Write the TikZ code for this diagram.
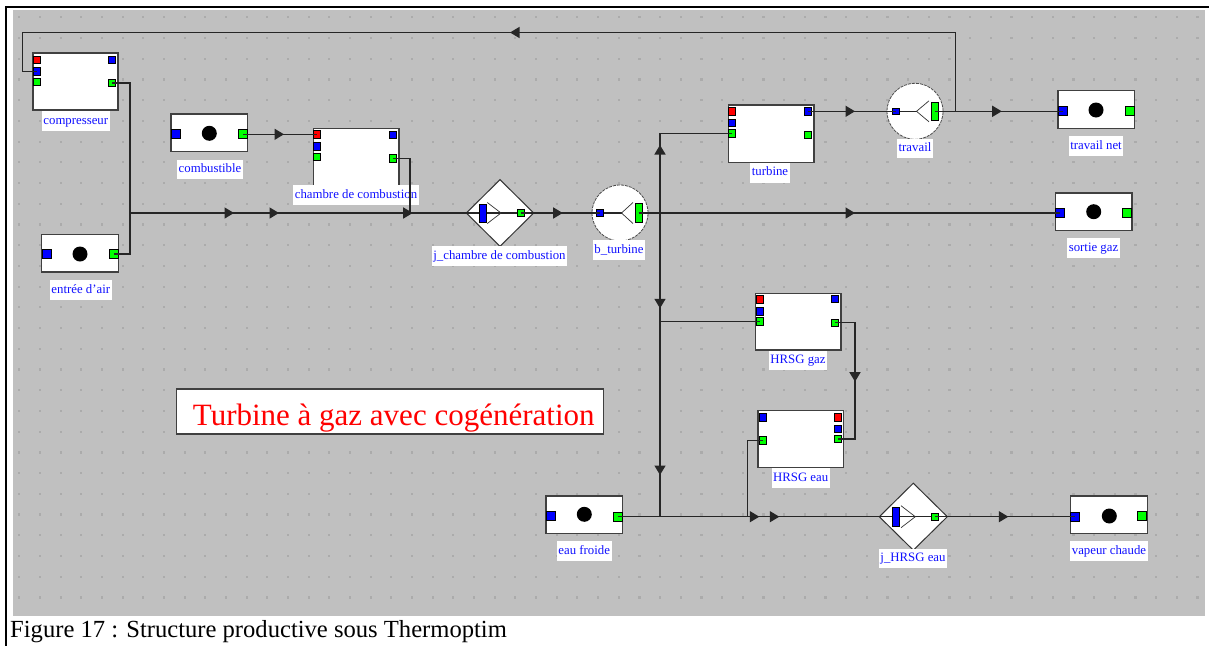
\documentclass[tikz,border=0pt]{standalone}
\usepackage{fontspec}
\setmainfont{Liberation Serif}
\usetikzlibrary{arrows.meta,decorations.markings,shapes.geometric}
\definecolor{bgc}{HTML}{C0C0C0}
\definecolor{dotc}{HTML}{ABABAB}
\definecolor{pblue}{HTML}{0000FF}
\definecolor{pgreen}{HTML}{00FF00}
\definecolor{pred}{HTML}{FF0000}
\definecolor{lblc}{HTML}{1010FF}
\definecolor{wirec}{HTML}{262626}
\begin{document}
\begin{tikzpicture}[x=1pt,y=-1pt,
  wire/.style={draw=wirec, line width=1.5pt},
  arrowat/.style={postaction={decorate,decoration={markings,mark=at position #1 with {\arrow{Triangle[length=9.5pt,width=11pt]}}}}},
  box/.style={rectangle, draw=black!75, fill=white, line width=1.4pt, inner sep=0pt, outer sep=0pt},
  port/.style={rectangle, draw=black, line width=0.7pt, inner sep=0pt, outer sep=0pt, minimum width=7pt, minimum height=7.5pt},
  bp/.style={port, fill=pblue}, gp/.style={port, fill=pgreen}, rp/.style={port, fill=pred},
  big/.style={minimum width=9pt, minimum height=9pt},
  tall/.style={minimum width=7pt, minimum height=18.5pt},
  small/.style={minimum width=6.6pt, minimum height=6.4pt},
  srcdot/.style={circle, fill=black, minimum size=15pt, inner sep=0pt},
  lab/.style={fill=white, text=lblc, font=\fontsize{12.8}{14}\selectfont, inner xsep=1.6pt, inner ysep=0pt, text height=9pt, text depth=3pt, minimum height=19.5pt},
  mixer/.style={diamond, fill=white, draw=black!80, line width=1pt, inner sep=0pt, outer sep=0pt},
  splitter/.style={circle, fill=white, draw=black!70, line width=0.8pt, dash pattern=on 3pt off 1pt, inner sep=0pt, outer sep=0pt, minimum size=56pt},
  chev/.style={draw=black!80, line width=0.7pt}
]
\useasboundingbox (0,0) rectangle (1209,646);
\fill[white] (0,0) rectangle (1209,646);
% frame and background
\fill[black] (4.7,5.7) rectangle (1209,7.7);
\fill[black] (4.7,5.7) rectangle (6.7,646);
\fill[bgc] (13,10) rectangle (1205,616);
\foreach \i in {0,...,57} {\foreach \j in {0,...,28} {
  \fill[dotc] ({18.2+20.67*\i},{16.2+20.72*\j}) rectangle ++(2.2,2.2);}}

% ---------- compresseur
\node[box, minimum width=85pt, minimum height=57pt] (comp) at (75.5,81.5) {};
\node[rp] (cp-rl) at (37.3,59.7) {};
\node[bp] (cp-bl) at (37.3,71.3) {};
\node[gp] (cp-gl) at (37.3,81.7) {};
\node[bp] (cp-br) at (112.3,59.7) {};
\node[gp] (cp-gr) at (112.3,83) {};
\node[lab] (l-comp) at (75.8,121.2) {compresseur};
% ---------- combustible
\node[box, minimum width=76.7pt, minimum height=37.7pt] (comb) at (209.3,132.8) {};
\node[bp,big] (cb-b) at (176,134.3) {};
\node[srcdot] (cb-d) at (209.3,133.3) {};
\node[gp,big] (cb-g) at (242.8,134.3) {};
\node[lab] (l-comb) at (210,169.3) {combustible};
% ---------- entree d'air
\node[box, minimum width=76.6pt, minimum height=37.7pt] (ent) at (80,253.2) {};
\node[bp,big] (en-b) at (46.5,254) {};
\node[srcdot] (en-d) at (80,254) {};
\node[gp,big] (en-g) at (114,254) {};
\node[lab] (l-ent) at (80.8,290) {entrée d'air};
% ---------- chambre de combustion
\node[box, minimum width=85.7pt, minimum height=57pt] (cham) at (356.2,156.8) {};
\node[rp] (ch-rl) at (317.3,134.3) {};
\node[bp] (ch-bl) at (317.3,146.5) {};
\node[gp] (ch-gl) at (317.3,156.7) {};
\node[bp] (ch-br) at (393.3,134.7) {};
\node[gp] (ch-gr) at (393.3,158.3) {};
\node[lab] (l-cham) at (356,195) {chambre de combustion};
% ---------- j_chambre de combustion
\node[mixer, minimum width=67.4pt, minimum height=66.7pt] (jch) at (500,213) {};
\draw[wire] (jch.west) -- (jch.east);
\draw[chev] ([shift={(-12.7,-10.5)}]jch.center) -- ([shift={(1,0)}]jch.center) -- ([shift={(-12.7,10.5)}]jch.center);
\node[bp,tall] (jch-b) at (482.5,213.5) {};
\node[gp,small] (jch-g) at (520.7,213) {};
\node[lab] (l-jch) at (499.5,256) {j\_chambre de combustion};
% ---------- b_turbine
\node[splitter] (bt) at (620,213) {};
\draw[wire] (bt.west) -- ([shift={(1.5,0)}]bt.center);
\draw[chev] ([shift={(13,-10.5)}]bt.center) -- ([shift={(1.5,0)}]bt.center) -- ([shift={(13,10.5)}]bt.center);
\node[bp,small] (bt-b) at (600,213) {};
\node[gp,tall] (bt-g) at (638.8,213) {};
\node[lab] (l-bt) at (619,250) {b\_turbine};
% ---------- turbine
\node[box, minimum width=85.7pt, minimum height=57.3pt] (turb) at (771.2,133.7) {};
\node[rp] (tu-rl) at (732.3,111.3) {};
\node[bp] (tu-bl) at (732.3,122.8) {};
\node[gp] (tu-gl) at (732.3,133.5) {};
\node[bp] (tu-br) at (808.2,111.3) {};
\node[gp] (tu-gr) at (808.2,134.8) {};
\node[lab] (l-turb) at (770,172.8) {turbine};
% ---------- travail
\node[splitter] (tr) at (915,111.3) {};
\draw[wire] (tr.west) -- ([shift={(1.5,0)}]tr.center);
\draw[chev] ([shift={(14,-10.5)}]tr.center) -- ([shift={(1.5,0)}]tr.center) -- ([shift={(14,10.5)}]tr.center);
\node[bp,small] (tr-b) at (895.7,111.3) {};
\node[gp,tall] (tr-g) at (934.5,111.3) {};
\node[lab] (l-tr) at (915,148.3) {travail};
% ---------- travail net
\node[box, minimum width=76.3pt, minimum height=37.6pt] (tn) at (1096.2,109.5) {};
\node[bp,big] (tn-b) at (1062.7,111.3) {};
\node[srcdot] (tn-d) at (1096,110) {};
\node[gp,big] (tn-g) at (1129.5,111) {};
\node[lab] (l-tn) at (1096,146) {travail net};
% ---------- sortie gaz
\node[box, minimum width=76.7pt, minimum height=37.7pt] (so) at (1093.7,211.8) {};
\node[bp,big] (so-b) at (1060,213) {};
\node[srcdot] (so-d) at (1093.7,211.7) {};
\node[gp,big] (so-g) at (1127.2,213) {};
\node[lab] (l-so) at (1093.5,248) {sortie gaz};
% ---------- HRSG gaz
\node[box, minimum width=85.3pt, minimum height=56.7pt] (hg) at (798.3,321.7) {};
\node[rp] (hg-rl) at (759.7,299.2) {};
\node[bp] (hg-bl) at (759.7,311.2) {};
\node[gp] (hg-gl) at (759.7,321.5) {};
\node[bp] (hg-br) at (835.3,299) {};
\node[gp] (hg-gr) at (835.3,322.7) {};
\node[lab] (l-hg) at (798,360.5) {HRSG gaz};
% ---------- HRSG eau
\node[box, minimum width=85.3pt, minimum height=56.6pt] (he) at (800.7,439) {};
\node[bp] (he-bl) at (762.8,417.2) {};
\node[gp] (he-gl) at (762.8,440.5) {};
\node[rp] (he-rr) at (837.8,417.3) {};
\node[bp] (he-br) at (837.8,428.8) {};
\node[gp] (he-gr) at (837.8,439) {};
\node[lab] (l-he) at (800.7,478) {HRSG eau};
% ---------- eau froide
\node[box, minimum width=76.7pt, minimum height=37.3pt] (ea) at (584.3,514.7) {};
\node[bp,big] (ea-b) at (550.8,516) {};
\node[srcdot] (ea-d) at (584.3,514.3) {};
\node[gp,big] (ea-g) at (617.7,516.7) {};
\node[lab] (l-ea) at (584.2,551) {eau froide};
% ---------- j_HRSG eau
\node[mixer, minimum width=68pt, minimum height=67pt] (jh) at (913.3,516.7) {};
\draw[wire] (jh.west) -- (jh.east);
\draw[chev] ([shift={(-12.3,-11)}]jh.center) -- ([shift={(2,0)}]jh.center) -- ([shift={(-12.3,11)}]jh.center);
\node[bp,tall] (jh-b) at (895.8,516.7) {};
\node[gp,small] (jh-g) at (935,516.7) {};
\node[lab] (l-jh) at (913,558.7) {j\_HRSG eau};
% ---------- vapeur chaude
\node[box, minimum width=76.6pt, minimum height=37.3pt] (va) at (1109,514.7) {};
\node[bp,big] (va-b) at (1075.3,516.7) {};
\node[srcdot] (va-d) at (1109.3,516) {};
\node[gp,big] (va-g) at (1142.3,516) {};
\node[lab] (l-va) at (1109,551) {vapeur chaude};
% ---------- title and caption
\node[draw=black!75, line width=1.4pt, fill=white, minimum width=426.6pt, minimum height=45pt, inner sep=0pt] (title) at (390,411.5) {};
\node[anchor=base west, text=red, font=\fontsize{31}{36}\selectfont, inner sep=0pt] (title-t) at (192.7,425) {Turbine à gaz avec cogénération};
\node[anchor=base west, text=black, font=\fontsize{24.6}{28}\selectfont, inner sep=0pt] (caption) at (10,637) {Figure 17 : Structure productive sous Thermoptim};

% ---------- connectors
\coordinate (jt) at (955.7,111.3);
\draw[wire, arrowat=251.7pt] (cp-gr.center) -- ++(17.7,0) |- (jch.west);
\draw[wire, arrowat=206pt] (en-g.center) -- ++(16,0) |- (jch.west);
\draw[wire, arrowat=41.2pt] (cb-g.center) -- (ch-rl.center);
\draw[wire, arrowat=74.1pt] (ch-gr.center) -- ++(16.7,0) |- (jch.west);
\draw[wire, arrowat=42pt] (jch-g.center) -- (bt-b.center);
\draw[wire, arrowat=216.2pt] (bt-g.center) -- (so-b.center);
\draw[wire, arrowat=89.2pt] (bt-g.center) -- ++(21.2,0) |- (tu-gl.center);
\draw[wire, arrowat=116.5pt] (bt-g.center) -- ++(21.2,0) |- (hg-gl.center);
\draw[wire, arrowat=283.2pt] (bt-g.center) -- ++(21.2,0) |- (jh.west);
\draw[wire, arrowat=46.8pt] (tu-br.center) -- (tr-b.center);
\draw[wire, arrowat=67.2pt] (tr-g.center) -- (tn-b.center);
\draw[wire, arrowat=524.5pt] (jt) -- ++(0,-78.8) -- ++(-933.4,0) |- (cp-bl.center);
\draw[wire, arrowat=78.7pt] (hg-gr.center) -- ++(19.7,0) |- (he-gr.center);
\draw[wire, arrowat=122.9pt] (he-gl.center) -- ++(-15.1,0) |- (jh.west);
\draw[wire, arrowat=141.6pt] (ea-g.center) -- (jh.west);
\draw[wire, arrowat=73.3pt] (jh-g.center) -- (va-b.center);
\end{tikzpicture}
\end{document}
